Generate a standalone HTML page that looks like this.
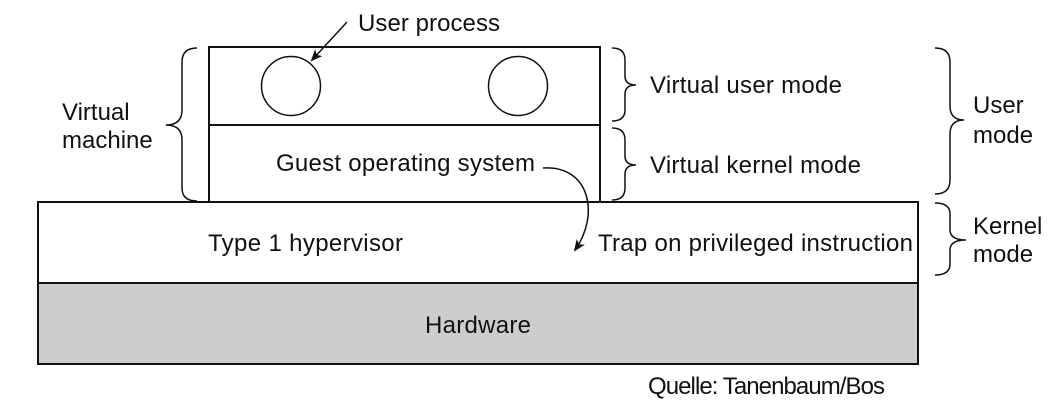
<!DOCTYPE html>
<html><head><meta charset="utf-8"><style>body{margin:0;background:#fff}svg{display:block}text{font-family:"Liberation Sans",sans-serif;font-size:24px;fill:#111}</style></head>
<body>
<svg width="1061" height="408" viewBox="0 0 1061 408">
<defs><marker id="a" markerWidth="12" markerHeight="10" refX="10" refY="5" orient="auto" markerUnits="userSpaceOnUse"><path d="M0,0 L12,5 L0,10 L3,5 z" fill="#111"/></marker></defs>
<g stroke="#111" stroke-width="2" fill="none">
<rect x="38" y="283" width="880" height="81" fill="#cdcdcd"/>
<rect x="38" y="202" width="880" height="81" fill="#fff"/>
<rect x="209" y="47" width="391" height="155" fill="#fff"/>
<line x1="209" y1="125" x2="600" y2="125"/>
</g>
<g stroke="#111" stroke-width="1.5" fill="none">
<circle cx="291" cy="86" r="29.5"/>
<circle cx="518" cy="86" r="29.5"/>
<path d="M347,22 L312,60" marker-end="url(#a)"/>
<path d="M543,168 C590,165 600,215 575,250" marker-end="url(#a)"/>
<path d="M197,48 Q182,48 182,62 L182,110 Q182,125 166,125 Q182,125 182,140 L182,188 Q182,201 197,201"/>
<path d="M612,48 Q625,48 625,60 L625,76 Q625,85 636,85 Q625,85 625,94 L625,110 Q625,121 612,121"/>
<path d="M612,128 Q625,128 625,140 L625,156 Q625,165 636,165 Q625,165 625,174 L625,188 Q625,200 612,200"/>
<path d="M935,48 Q950,48 950,62 L950,106 Q950,120 964,120 Q950,120 950,134 L950,180 Q950,194 935,194"/>
<path d="M935,203 Q950,203 950,214 L950,230 Q950,240 966,240 Q950,240 950,250 L950,264 Q950,275 935,275"/>
</g>
<text x="358" y="31" textLength="142">User process</text>
<text x="62" y="120">Virtual</text>
<text x="62" y="148">machine</text>
<text x="276" y="171" textLength="259">Guest operating system</text>
<text x="208" y="251" textLength="195">Type 1 hypervisor</text>
<text x="598" y="251" textLength="315">Trap on privileged instruction</text>
<text x="650" y="93" textLength="192">Virtual user mode</text>
<text x="650" y="173" textLength="211">Virtual kernel mode</text>
<text x="973" y="113">User</text>
<text x="973" y="143">mode</text>
<text x="973" y="234">Kernel</text>
<text x="973" y="262">mode</text>
<text x="425" y="333" textLength="106">Hardware</text>
<text x="648" y="394" textLength="237">Quelle: Tanenbaum/Bos</text>
</svg>
</body></html>
